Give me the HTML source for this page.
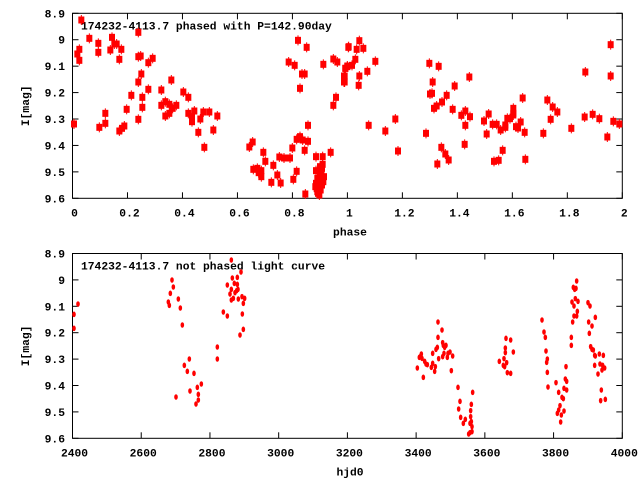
<!DOCTYPE html>
<html><head><meta charset="utf-8"><style>
html,body{margin:0;padding:0;background:#fff;}
svg{display:block;}
text{font-family:"Liberation Mono","DejaVu Sans Mono",monospace;font-weight:bold;font-size:11.3px;fill:#000;}
</style></head><body>
<svg id="s" width="640" height="480" xmlns="http://www.w3.org/2000/svg">
<g id="g"></g>
</svg>
<script>
const NS="http://www.w3.org/2000/svg";
const g=document.getElementById('g');
function el(t,a,txt){const e=document.createElementNS(NS,t);for(const k in a)e.setAttribute(k,a[k]);if(txt!=null)e.textContent=txt;g.appendChild(e);return e;}
const L=72.5,R=622.3;
function frame(T,B,xt,yl,title,xlab){
  el('rect',{x:L,y:T,width:R-L,height:B-T,fill:'none',stroke:'#000','stroke-width':1});
  for(let i=0;i<xt.length;i++){const x=L+(R-L)*i/(xt.length-1);
    el('line',{x1:x,y1:B,x2:x,y2:B-6,stroke:'#000'});el('line',{x1:x,y1:T,x2:x,y2:T+6,stroke:'#000'});
    el('text',{x:x+2,y:B+18,'text-anchor':'middle'},xt[i]);}
  for(let i=0;i<yl.length;i++){const y=T+(B-T)*i/(yl.length-1);
    el('line',{x1:L,y1:y,x2:L+6,y2:y,stroke:'#000'});el('line',{x1:R,y1:y,x2:R-6,y2:y,stroke:'#000'});
    el('text',{x:65,y:y+4,'text-anchor':'end'},yl[i]);}
  el('text',{x:81,y:T+16},title);
  el('text',{x:350,y:B+37,'text-anchor':'middle'},xlab);
  const cy=(T+B)/2;
  el('text',{x:0,y:0,'text-anchor':'middle',transform:`translate(29,${cy}) rotate(-90)`},'I[mag]');
}
const yl=['8.9','9','9.1','9.2','9.3','9.4','9.5','9.6'];
frame(13.3,198.3,['0','0.2','0.4','0.6','0.8','1','1.2','1.4','1.6','1.8','2'],yl,'174232-4113.7 phased with P=142.90day','phase');
frame(253.5,438.3,['2400','2600','2800','3000','3200','3400','3600','3800','4000'],yl,'174232-4113.7 not phased light curve','hjd0');
function sq(x,y){el('line',{x1:x,y1:y-5,x2:x,y2:y+5,stroke:'#f00','stroke-width':1});el('rect',{x:x-3,y:y-3.5,width:6,height:7,fill:'#f00'});}
function dot(x,y){el('ellipse',{cx:x,cy:y,rx:1.8,ry:2.8,fill:'#f00'});}
const t1=[[42,372],[52,162],[58,148],[58,181],[64,60],[88,115],[115,130],[115,157],[118,382],[136,340],[136,370],[151,150],[156,112],[163,132],[170,132],[178,178],[178,393],[184,148],[186,385],[193,378],[200,328],[214,286],[235,97],[235,170],[235,246],[235,358],[242,168],[244,222],[247,292],[247,322],[265,188],[265,268],[278,175],[304,270],[304,316],[316,305],[316,348],[328,313],[328,340],[334,240],[338,325],[349,316],[370,276],[385,292],[385,340],[396,350],[396,365],[403,333],[415,397],[421,357],[430,336],[433,442],[448,336],[460,390],[472,348],
[568,441],[578,426],[580,508],[592,505],[596,518],[604,512],[604,530],[610,457],[616,484],[634,547],[640,496],[652,525],[658,471],[662,549],[672,474],[686,186],[690,474],[697,444],[700,538],[704,196],[710,514],[710,418],[714,121],[720,265],[720,410],[726,222],[728,420],[734,222],[734,451],[740,142],[744,424],[744,376],[736,582],[768,470],[768,512],[768,550],[772,575],[780,520],[784,540],[788,493],[788,470],[790,193],[792,530],[812,457],[820,316],[820,177],[828,292],[832,186],[852,246],[852,228],[856,205],[862,200],[865,142],
[766,560],[770,566],[774,580],[778,585],[782,570],[786,555],[790,545],[776,540],[782,515],[786,505],[772,535],[780,500]];
t1.forEach(p=>sq(60+p[0]/3,p[1]/3));
const t2=[[14,246],[14,228],[16,205],[22,198],[26,140],[36,196],[46,178],[50,148],[56,256],[58,122],[58,228],[70,145],[82,214],[86,376],[106,184],[136,393],[166,357],[174,453],[258,400],[268,190],[270,282],[276,280],[278,246],[282,325],[290,318],[292,492],[296,199],[306,306],[304,442],[316,462],[320,286],[326,480],[338,328],[344,258],[364,346],[376,333],[376,376],[374,433],[388,231],[390,350],[432,363],[440,402],[446,342],[458,373],[462,484],[470,373],[476,481],[482,390],[488,451],[496,375],[496,382],[502,355],[510,356],[520,325],[520,340],[520,345],[528,380],[534,384],[542,366],[548,294],[554,397],[556,478],[610,400],[622,300],[632,358],[638,321],[652,336],[694,385],[736,216],[734,351],[758,343],[778,356],[802,411],[812,134],[812,228],[820,364],[838,372]];
t2.forEach(p=>sq(340+p[0]/3,p[1]/3));
const b1=[[222,223],[222,265],[234,192],[505,186],[508,196],[511,160],[516,120],[520,141],[535,177],[541,204],[547,255],[528,471],[553,376],[562,394],[568,357],[570,453],[582,400],[588,492],[592,442],[595,463],[595,480],[604,432],[652,321],[652,357],[670,216],[682,228],[682,135],[690,162],[694,60],[694,148],[694,180],[697,114],[700,175],[703,130],[705,158],[710,152],[712,112],[712,133],[714,148],[715,177],[720,285],[723,96],[726,170],[727,222],[730,190],[730,268],[734,175]];
b1.forEach(p=>dot(p[0]/3,240+p[1]/3));
const b2=[[232,384],[238,352],[242,348],[244,342],[246,355],[250,412],[254,364],[258,372],[262,374],[274,382],[278,340],[278,370],[284,394],[286,380],[288,328],[292,322],[294,246],[294,292],[296,356],[306,270],[308,308],[308,350],[310,316],[312,340],[314,322],[318,316],[322,352],[324,340],[330,336],[334,392],[338,348],[354,442],[356,507],[360,484],[362,532],[370,550],[376,538],[386,582],[390,578],[390,550],[392,512],[392,530],[394,493],[394,545],[396,560],[396,575],[398,457],[478,364],[490,376],[492,356],[494,380],[496,324],[496,338],[498,295],[500,368],[502,398],[512,300],[512,400],[520,336],[606,240],[612,276],[616,292],[618,333],[620,367],[622,357],[622,397],[624,441],[648,428],[652,520],[656,457],[656,510],[660,497],[662,546],[664,525],[666,472],[670,476],[672,445],[672,513],[676,417],[678,380],[680,424],[680,450],[694,292],[694,316],[696,186],[698,246],[700,142],[702,228],[702,198],[704,148],[706,176],[708,145],[710,123],[710,228],[712,214],[714,184],[744,188],[746,246],[748,280],[750,198],[752,320],[756,258],[756,328],[760,330],[764,346],[764,376],[766,232],[766,348],[774,402],[778,342],[780,372],[782,482],[784,450],[786,390],[788,376],[790,346],[794,384],[796,478]];
b2.forEach(p=>dot(340+p[0]/3,240+p[1]/3));
</script>
</body></html>
